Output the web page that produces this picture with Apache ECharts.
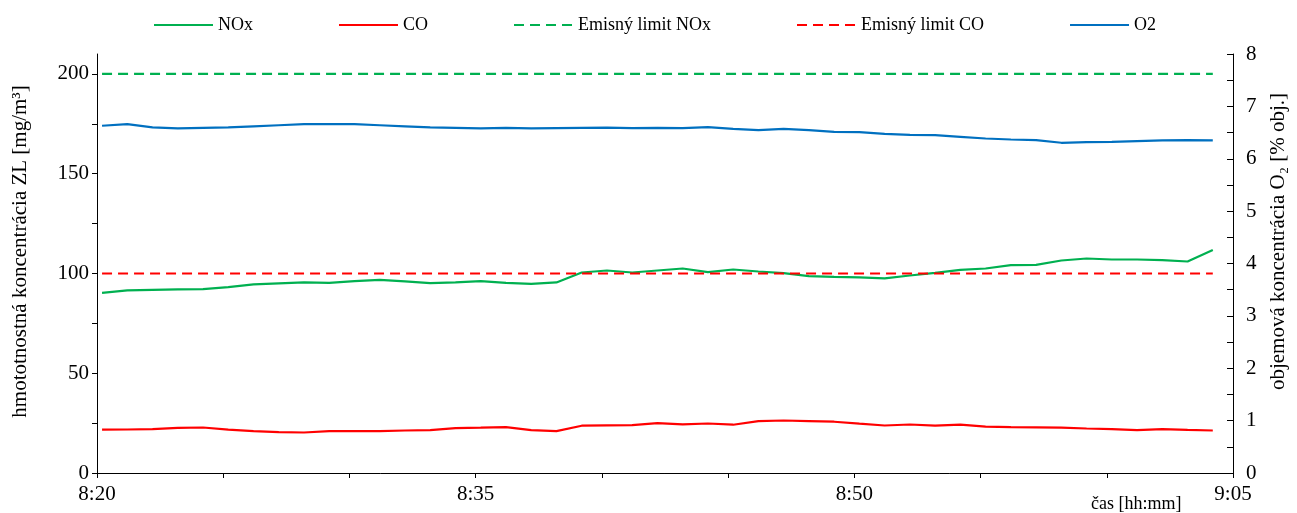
<!DOCTYPE html>
<html>
<head>
<meta charset="utf-8">
<script src="https://cdn.jsdelivr.net/npm/echarts@6/dist/echarts.min.js"></script>
<style>
  html, body { margin: 0; padding: 0; background: #fff; }
  #main { width: 1297px; height: 513px; }
</style>
</head>
<body>
<div id="main"></div>
<script>
// cas merania (kazda minuta)
var times = ['8:20:12','8:21:12','8:22:12','8:23:12','8:24:12','8:25:12','8:26:12','8:27:12','8:28:12','8:29:12',
             '8:30:12','8:31:12','8:32:12','8:33:12','8:34:12','8:35:12','8:36:12','8:37:12','8:38:12','8:39:12',
             '8:40:12','8:41:12','8:42:12','8:43:12','8:44:12','8:45:12','8:46:12','8:47:12','8:48:12','8:49:12',
             '8:50:12','8:51:12','8:52:12','8:53:12','8:54:12','8:55:12','8:56:12','8:57:12','8:58:12','8:59:12',
             '9:00:12','9:01:12','9:02:12','9:03:12','9:04:12'];
// NOx [mg/m3]
var nox = [90.3, 91.5, 91.8, 92.0, 92.2, 93.2, 94.5, 95.0, 95.5, 95.3,
           96.2, 96.8, 96.0, 95.2, 95.5, 96.2, 95.3, 94.8, 95.5, 100.5,
           101.5, 100.5, 101.5, 102.5, 100.7, 102.0, 101.0, 100.2, 98.7, 98.3,
           98.0, 97.5, 99.0, 100.3, 101.8, 102.5, 104.2, 104.3, 106.5, 107.5,
           107.0, 107.0, 106.7, 106.0, 111.8];
// CO [mg/m3]
var co = [21.7, 21.8, 22.0, 22.6, 22.8, 21.7, 21.0, 20.5, 20.3, 21.0,
          21.0, 21.0, 21.3, 21.5, 22.5, 22.7, 23.0, 21.5, 21.0, 23.7,
          23.9, 24.0, 25.0, 24.4, 24.8, 24.2, 26.0, 26.3, 26.0, 25.7,
          24.7, 23.8, 24.3, 23.7, 24.2, 23.2, 23.0, 22.9, 22.7, 22.3,
          22.0, 21.5, 22.0, 21.6, 21.3];
// O2 [% obj.]
var o2 = [6.63, 6.66, 6.60, 6.58, 6.59, 6.60, 6.62, 6.64, 6.66, 6.66,
          6.66, 6.64, 6.62, 6.60, 6.59, 6.58, 6.59, 6.58, 6.585, 6.59,
          6.595, 6.585, 6.59, 6.584, 6.603, 6.571, 6.546, 6.571, 6.546, 6.514,
          6.508, 6.476, 6.457, 6.451, 6.419, 6.387, 6.368, 6.356, 6.305, 6.317,
          6.324, 6.337, 6.349, 6.356, 6.349];
// emisne limity
var limitNox = 200;
var limitCo = 100;
var xLabels = ['8:20', '8:35', '8:50', '9:05'];

var FONT = "'Liberation Serif', 'Times New Roman', serif";

// minuty od 8:20
function toMin(s) {
    var p = s.split(':');
    return (+p[0]) * 60 + (+p[1]) + (p[2] ? (+p[2]) / 60 : 0) - (8 * 60 + 20);
}
function pairs(vals) {
    return vals.map(function (v, i) { return [toMin(times[i]), v]; });
}
var tFirst = toMin(times[0]), tLast = toMin(times[times.length - 1]);

var myChart = echarts.init(document.getElementById('main'));
var opt = {
    animation: false,
    textStyle: { fontFamily: FONT, color: '#000' },
    legend: {
        left: 148, top: 11,
        itemWidth: 59, itemHeight: 14, itemGap: 85,
        itemStyle: { opacity: 0 }, // bez znaciek, len ciara
        textStyle: { fontFamily: FONT, fontSize: 18, color: '#000' },
        data: ['NOx', 'CO', 'Emisný limit NOx', 'Emisný limit CO', 'O2']
    },
    grid: { left: 97, right: 60, top: 54, bottom: 39 },
    xAxis: {
        type: 'value', min: 0, max: 45, interval: 5,
        name: 'čas [hh:mm]', nameLocation: 'end', nameGap: -142,
        nameTextStyle: { fontFamily: FONT, fontSize: 18, color: '#000', verticalAlign: 'top', padding: [22, 0, 0, 0] },
        axisLine: { lineStyle: { color: '#000', width: 1 } },
        axisTick: { show: true, length: 5, lineStyle: { color: '#000' } },
        axisLabel: {
            fontFamily: FONT, fontSize: 21, color: '#000', margin: 11,
            customValues: xLabels.map(toMin),
            formatter: function (v) {
                var m = 8 * 60 + 20 + Math.round(v);
                var mm = m % 60;
                return Math.floor(m / 60) + ':' + (mm < 10 ? '0' : '') + mm;
            }
        },
        splitLine: { show: false }
    },
    yAxis: [{
        type: 'value', min: 0, max: 210, interval: 50, position: 'left',
        name: 'hmototnostná koncentrácia ZL [mg/m³]', nameLocation: 'middle', nameGap: 66, nameRotate: 90,
        nameTextStyle: { fontFamily: FONT, fontSize: 21, color: '#000', padding: [0, 0, 0, 24] },
        axisLine: { show: true, lineStyle: { color: '#000', width: 1 } },
        axisTick: { show: true, length: 5, lineStyle: { color: '#000' },
                    customValues: [0, 25, 50, 75, 100, 125, 150, 175, 200] },
        axisLabel: { fontFamily: FONT, fontSize: 21, color: '#000', margin: 8,
                     customValues: [0, 50, 100, 150, 200] },
        splitLine: { show: false }
    }, {
        type: 'value', min: 0, max: 8, interval: 1, position: 'right',
        name: 'objemová koncentrácia O₂ [% obj.]', nameLocation: 'middle', nameGap: 35, nameRotate: 90,
        nameTextStyle: { fontFamily: FONT, fontSize: 21, color: '#000', padding: [0, 0, 0, 44] },
        axisLine: { show: true, lineStyle: { color: '#000', width: 1 } },
        axisTick: { show: true, inside: true, length: 6, lineStyle: { color: '#000' },
                    customValues: [0, 0.5, 1, 1.5, 2, 2.5, 3, 3.5, 4, 4.5, 5, 5.5, 6, 6.5, 7, 7.5, 8] },
        axisLabel: { fontFamily: FONT, fontSize: 21, color: '#000', margin: 13 },
        splitLine: { show: false }
    }],
    series: [{
        name: 'NOx', type: 'line', yAxisIndex: 0, symbol: 'none',
        lineStyle: { color: '#00B050', width: 2.2 }, itemStyle: { color: '#00B050' },
        data: pairs(nox)
    }, {
        name: 'CO', type: 'line', yAxisIndex: 0, symbol: 'none',
        lineStyle: { color: '#FF0000', width: 2.2 }, itemStyle: { color: '#FF0000' },
        data: pairs(co)
    }, {
        name: 'Emisný limit NOx', type: 'line', yAxisIndex: 0, symbol: 'none',
        lineStyle: { color: '#00B050', width: 2.2, type: [10, 6] }, itemStyle: { color: '#00B050' },
        data: [[tFirst, limitNox], [tLast, limitNox]]
    }, {
        name: 'Emisný limit CO', type: 'line', yAxisIndex: 0, symbol: 'none',
        lineStyle: { color: '#FF0000', width: 2.2, type: [10, 6] }, itemStyle: { color: '#FF0000' },
        data: [[tFirst, limitCo], [tLast, limitCo]]
    }, {
        name: 'O2', type: 'line', yAxisIndex: 1, symbol: 'none',
        lineStyle: { color: '#0070C0', width: 2.2 }, itemStyle: { color: '#0070C0' },
        data: pairs(o2)
    }]
};
myChart.setOption(opt);
</script>
</body>
</html>
